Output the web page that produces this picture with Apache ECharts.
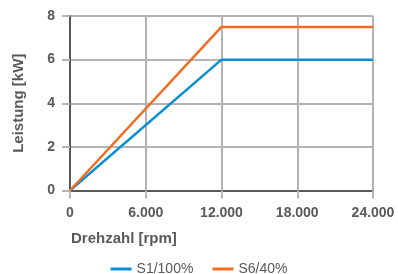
<!DOCTYPE html>
<html>
<head>
<meta charset="utf-8">
<script src="https://cdn.jsdelivr.net/npm/echarts@6/dist/echarts.min.js"></script>
<style>
  html, body { margin: 0; padding: 0; background: #fff; }
  #chart { width: 398px; height: 274px; }
</style>
</head>
<body>
<div id="chart"></div>
<script>
var drehzahl = [0, 12000, 24000];
var s1 = [0, 6, 6];
var s6 = [0, 7.5, 7.5];
var seriesNames = ['S1/100%', 'S6/40%'];

function setChart(){
    var chartDom = document.getElementById('chart');
    var myChart = echarts.init(chartDom);
    var textColor = '#58595b';
    var gridColor = '#b4b4b6';
    var axisColor = '#58595b';
    var font = '"Liberation Sans", Arial, sans-serif';
    var option;
    option = {
        animation: false,
        textStyle: {fontFamily: font},
        title: {
            text: 'Drehzahl [rpm]',
            left: 66,
            top: 226,
            textStyle: {fontSize: 15, fontWeight: 'bold', color: textColor, fontFamily: font}
        },
        legend: {
            data: seriesNames,
            top: 257,
            left: 'center',
            icon: 'rect',
            itemWidth: 21,
            itemHeight: 3,
            itemGap: 19,
            textStyle: {fontSize: 14, color: textColor, fontFamily: font}
        },
        grid: {
            left: 70,
            right: 25,
            top: 16,
            bottom: 83.5
        },
        xAxis: {
            type: 'value',
            min: 0,
            max: 24000,
            interval: 6000,
            axisLine: {show: true, lineStyle: {color: axisColor, width: 2}},
            axisTick: {show: true, length: 8, lineStyle: {color: gridColor, width: 2}},
            axisLabel: {
                margin: 16,
                fontSize: 14,
                fontWeight: 'bold',
                color: textColor,
                formatter: function (v) {
                    return String(v).replace(/\B(?=(\d{3})+(?!\d))/g, '.');
                }
            },
            splitLine: {show: true, lineStyle: {color: gridColor, width: 2}}
        },
        yAxis: {
            type: 'value',
            min: 0,
            max: 8,
            interval: 2,
            name: 'Leistung [kW]',
            nameLocation: 'middle',
            nameGap: 44,
            nameTextStyle: {fontSize: 15, fontWeight: 'bold', color: textColor},
            axisLine: {show: true, lineStyle: {color: axisColor, width: 2}},
            axisTick: {show: true, length: 8, lineStyle: {color: gridColor, width: 2}},
            axisLabel: {margin: 15, fontSize: 14, fontWeight: 'bold', color: textColor},
            splitLine: {show: true, lineStyle: {color: gridColor, width: 2}}
        },
        series: [
            {
                name: seriesNames[0], type: 'line', symbol: 'none',
                data: drehzahl.map(function (x, i) { return [x, s1[i]]; }),
                lineStyle: {width: 2.5, color: '#0a8fd6'},
                itemStyle: {color: '#0a8fd6'}
            },
            {
                name: seriesNames[1], type: 'line', symbol: 'none',
                data: drehzahl.map(function (x, i) { return [x, s6[i]]; }),
                lineStyle: {width: 2.5, color: '#f36d21'},
                itemStyle: {color: '#f36d21'}
            }
        ]
    };
    option && myChart.setOption(option);
}
setChart();
</script>
</body>
</html>
